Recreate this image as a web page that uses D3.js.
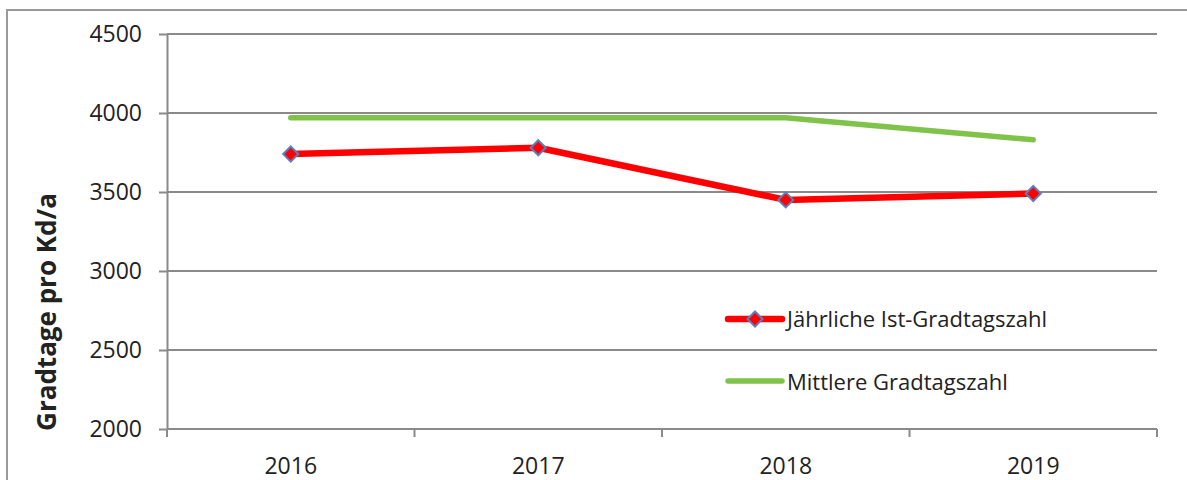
<!DOCTYPE html>
<html lang="de">
<head>
    <meta charset="UTF-8" />
    <title>Gradtagszahl</title>
    <style>
        body { margin: 0; background: #fff; }
        svg text { font-family: "Open Sans", "DejaVu Sans", sans-serif; fill: #222; }
        .grid line { stroke: #8a8a8a; stroke-width: 2px; }
        .axis path, .axis line { stroke: #8a8a8a; stroke-width: 2px; }
    </style>
</head>
<body>
    <div id="chart"></div>

    <script src="https://d3js.org/d3.v7.min.js"></script>
    <script>
        const years = ['2016', '2017', '2018', '2019'];
        const istWerte = [3740, 3780, 3450, 3490];
        const mittelWerte = [3970, 3970, 3970, 3830];
        const yTicks = [2000, 2500, 3000, 3500, 4000, 4500];
        const legendLabels = ['Jährliche Ist-Gradtagszahl', 'Mittlere Gradtagszahl'];

        const width = 1187, height = 480;
        const margin = { top: 34, right: 30, bottom: 51, left: 167 };

        const svg = d3.select('#chart').append('svg')
            .attr('width', width)
            .attr('height', height);

        // Rahmen (rechts/unten abgeschnitten)
        svg.append('rect')
            .attr('x', 7).attr('y', 10)
            .attr('width', width + 20).attr('height', height + 20)
            .attr('fill', 'none')
            .attr('stroke', '#9a9a9a')
            .attr('stroke-width', 2);

        const x = d3.scaleBand()
            .domain(years)
            .range([margin.left, width - margin.right]);

        const y = d3.scaleLinear()
            .domain([2000, 4500])
            .range([height - margin.bottom, margin.top]);

        // Gitterlinien
        svg.append('g')
            .attr('class', 'grid')
            .selectAll('line')
            .data(yTicks.slice(1))
            .enter().append('line')
            .attr('x1', margin.left)
            .attr('x2', width - margin.right)
            .attr('y1', d => y(d))
            .attr('y2', d => y(d));

        // Y-Achse
        const yAxis = svg.append('g')
            .attr('class', 'axis')
            .attr('transform', `translate(${margin.left},0)`)
            .call(d3.axisLeft(y).tickValues(yTicks).tickFormat(d3.format('d'))
                .tickSize(8).tickSizeOuter(0).tickPadding(17));
        yAxis.selectAll('text')
            .style('font-family', '"Open Sans", sans-serif')
            .style('font-size', '23px');

        // X-Achse mit Strichen an Kategoriegrenzen
        const xAxisG = svg.append('g')
            .attr('class', 'axis')
            .attr('transform', `translate(0,${y(2000)})`);
        xAxisG.append('line')
            .attr('x1', margin.left).attr('x2', width - margin.right)
            .attr('y1', 0).attr('y2', 0);
        xAxisG.selectAll('line.tick')
            .data(years.concat(['end']))
            .enter().append('line')
            .attr('class', 'tick')
            .attr('x1', (d, i) => margin.left + i * x.bandwidth())
            .attr('x2', (d, i) => margin.left + i * x.bandwidth())
            .attr('y1', 0).attr('y2', 8);
        xAxisG.selectAll('text')
            .data(years)
            .enter().append('text')
            .attr('x', d => x(d) + x.bandwidth() / 2)
            .attr('y', 45)
            .attr('text-anchor', 'middle')
            .style('font-size', '23px')
            .text(d => d);

        // Achsentitel
        svg.append('text')
            .attr('transform', `translate(56,312) rotate(-90)`)
            .attr('text-anchor', 'middle')
            .style('font-size', '26px')
            .style('font-weight', 'bold')
            .text('Gradtage pro Kd/a');

        const cx = d => x(d) + x.bandwidth() / 2;
        const line = d3.line()
            .x(d => cx(d.year))
            .y(d => y(d.value));

        const mittel = years.map((year, i) => ({ year, value: mittelWerte[i] }));
        const ist = years.map((year, i) => ({ year, value: istWerte[i] }));

        svg.append('path')
            .datum(mittel)
            .attr('fill', 'none')
            .attr('stroke', '#80c34a')
            .attr('stroke-width', 5.5)
            .attr('stroke-linecap', 'round')
            .attr('d', line);

        svg.append('path')
            .datum(ist)
            .attr('fill', 'none')
            .attr('stroke', '#ff0000')
            .attr('stroke-width', 6.5)
            .attr('stroke-linejoin', 'round')
            .attr('d', line);

        const diamond = d3.symbol().type(d3.symbolDiamond2).size(145);

        svg.append('g')
            .selectAll('path')
            .data(ist)
            .enter().append('path')
            .attr('transform', d => `translate(${cx(d.year)},${y(d.value)})`)
            .attr('d', diamond)
            .attr('fill', '#ff0000')
            .attr('stroke', '#5b7fbf')
            .attr('stroke-width', 2);

        // Legende
        const legend = svg.append('g');
        const lg1 = legend.append('g').attr('transform', 'translate(728,319)');
        lg1.append('line').attr('x1', 0).attr('x2', 54)
            .attr('stroke', '#ff0000').attr('stroke-width', 6.5).attr('stroke-linecap', 'round');
        lg1.append('path').attr('transform', 'translate(27,0)').attr('d', diamond)
            .attr('fill', '#ff0000').attr('stroke', '#5b7fbf').attr('stroke-width', 2);
        lg1.append('text').attr('x', 59).attr('y', 8).style('font-size', '22px').text(legendLabels[0]);

        const lg2 = legend.append('g').attr('transform', 'translate(728,381)');
        lg2.append('line').attr('x1', 0).attr('x2', 54)
            .attr('stroke', '#80c34a').attr('stroke-width', 5.5).attr('stroke-linecap', 'round');
        lg2.append('text').attr('x', 59).attr('y', 9).style('font-size', '22px').text(legendLabels[1]);
    </script>
</body>
</html>
